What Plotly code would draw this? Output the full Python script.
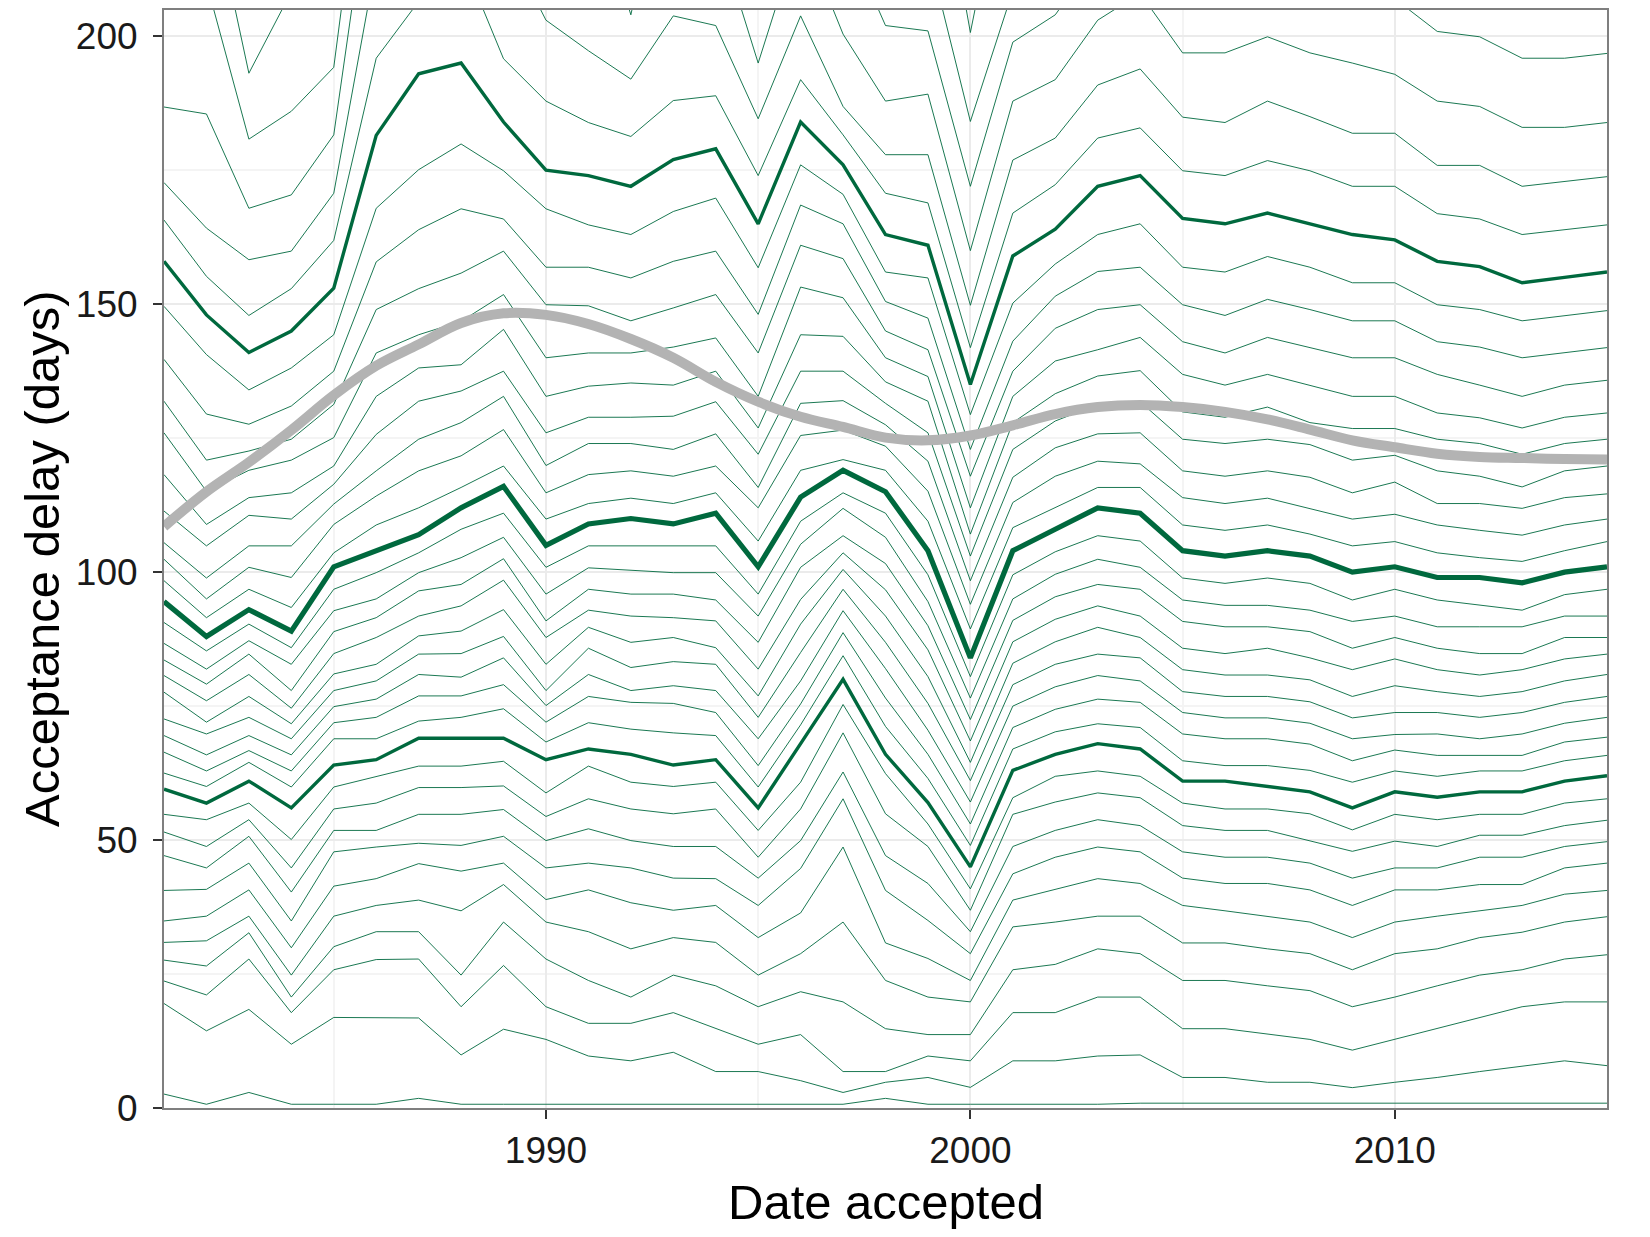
import plotly.graph_objects as go

# ---------------- data ----------------
YEARS = list(range(1981, 2016))
# percentile levels of the yearly acceptance-delay distribution (0 %, 2.5 %, ... 100 %)
QUANTILE_LEVELS = [i * 2.5 for i in range(41)]

# yearly quantile profiles (days); values > 205 run off the panel
Q1981 = [2.6, 19.5, 23.7, 27.6, 30.9, 34.9, 40.6, 47.1, 51.5, 54.8, 59.5, 62.5, 66.4, 69.5, 72.6, 77.6, 80.7, 83.6, 86.7, 90.6, 94.5, 98.4, 102.4, 105.5, 111.4, 118.2, 126.0, 131.9, 139.7, 149.6, 158.0, 165.7, 172.7, 186.8, 215, 240, 265, 300, 350, 450, 900]
Q1982 = [0.7, 14.4, 21.1, 26.5, 31.2, 35.8, 40.8, 44.8, 48.8, 53.8, 56.9, 60.0, 62.9, 65.9, 69.8, 72.0, 76.0, 79.1, 81.9, 85.3, 88.0, 91.5, 95.0, 98.9, 104.9, 108.9, 115.1, 120.9, 129.5, 140.6, 148.0, 155.2, 164.2, 185.5, 210, 230, 255, 290, 340, 440, 880]
Q1983 = [2.9, 18.4, 27.8, 32.7, 35.8, 40.7, 45.7, 50.7, 53.8, 56.9, 61.0, 64.5, 66.7, 69.5, 72.9, 76.8, 80.9, 84.7, 87.2, 90.3, 93.0, 96.8, 100.9, 104.9, 110.6, 113.9, 119.0, 122.6, 127.6, 134.0, 141.0, 147.9, 158.3, 167.9, 180.8, 193.1, 220, 260, 310, 420, 850]
Q1984 = [0.7, 11.9, 17.8, 20.7, 24.8, 29.9, 34.9, 40.3, 44.8, 50.1, 56.0, 59.9, 62.9, 65.9, 68.9, 71.7, 74.6, 77.9, 82.8, 85.9, 89.0, 93.4, 99.0, 104.9, 109.9, 114.8, 120.9, 124.8, 131.0, 138.1, 145.0, 152.9, 159.9, 170.4, 186.0, 208.3, 235, 270, 320, 430, 860]
Q1985 = [0.7, 16.9, 25.8, 30.1, 35.8, 41.4, 47.8, 51.8, 55.8, 59.9, 64.0, 68.9, 71.9, 74.9, 77.9, 81.0, 84.8, 88.9, 92.8, 96.8, 101.0, 103.6, 108.9, 112.7, 116.4, 119.8, 125.1, 131.3, 137.5, 144.3, 153.0, 161.9, 170.7, 181.6, 194.2, 230, 260, 300, 350, 460, 900]
Q1986 = [0.7, 16.8, 27.7, 32.9, 37.8, 42.8, 48.7, 51.8, 56.9, 61.9, 65.0, 68.9, 72.9, 76.3, 79.7, 82.8, 87.8, 91.5, 95.0, 99.9, 104.0, 108.8, 114.2, 118.9, 125.7, 132.8, 140.9, 149.0, 157.9, 167.9, 181.5, 195.9, 214, 237, 255, 280, 310, 350, 400, 500, 950]
Q1987 = [1.8, 16.8, 27.8, 32.9, 38.8, 45.6, 49.4, 54.8, 59.8, 63.8, 69.0, 72.2, 76.9, 80.9, 84.7, 88.1, 91.8, 96.5, 99.9, 103.6, 107.0, 112.0, 118.9, 124.8, 131.9, 138.1, 144.3, 152.9, 163.9, 175.1, 193.0, 206.5, 230, 250, 265, 290, 320, 360, 410, 510, 950]
Q1988 = [0.7, 9.9, 18.9, 24.8, 36.8, 44.2, 49.0, 54.8, 59.8, 63.8, 69.0, 72.9, 76.9, 80.4, 84.8, 89.0, 93.7, 97.7, 102.7, 108.0, 112.0, 115.8, 121.7, 127.9, 133.8, 138.7, 146.8, 155.8, 167.8, 179.9, 195.0, 215, 235, 255, 270, 295, 325, 365, 420, 520, 960]
Q1989 = [0.7, 14.7, 26.6, 34.7, 41.7, 45.7, 50.7, 55.7, 60.1, 64.7, 69.0, 74.5, 79.0, 84.0, 88.0, 93.0, 98.5, 102.5, 106.5, 111.0, 116.0, 119.8, 126.6, 132.8, 137.5, 145.3, 151.8, 159.9, 165.9, 174.9, 184.0, 195.8, 218.6, 245, 265, 290, 320, 360, 410, 510, 950]
Q1990 = [0.7, 12.8, 18.9, 27.8, 34.7, 38.9, 44.8, 49.9, 54.4, 58.8, 65.0, 68.3, 72.0, 75.1, 77.9, 82.8, 87.8, 90.9, 95.9, 100.9, 105.0, 109.9, 114.8, 119.9, 126.0, 132.8, 140.0, 149.9, 156.9, 167.8, 175.0, 187.9, 203.0, 225, 250, 275, 300, 340, 390, 490, 920]
Q1991 = [0.7, 9.7, 15.8, 23.8, 32.9, 40.7, 45.7, 52.1, 57.7, 63.8, 67.0, 71.9, 76.8, 80.9, 85.8, 89.7, 92.9, 96.8, 100.8, 104.9, 109.0, 112.8, 118.2, 124.0, 128.9, 134.7, 140.9, 149.7, 156.9, 164.8, 174.0, 183.9, 197.3, 230, 250, 275, 300, 340, 390, 490, 920]
Q1992 = [0.7, 8.8, 15.8, 20.7, 29.7, 38.3, 44.8, 49.9, 55.8, 60.8, 66.0, 70.7, 75.7, 77.9, 82.2, 86.9, 91.8, 95.9, 100.4, 104.9, 110.0, 113.8, 118.9, 124.0, 128.9, 135.3, 140.9, 146.9, 154.9, 163.0, 172.0, 181.3, 192.0, 204.0, 245, 270, 300, 340, 390, 490, 920]
Q1993 = [0.7, 10.4, 17.8, 24.8, 31.8, 36.9, 42.9, 48.8, 54.9, 60.0, 64.0, 70.0, 75.5, 78.8, 83.3, 87.8, 91.5, 95.9, 99.9, 104.9, 109.0, 112.8, 117.9, 122.9, 129.1, 134.9, 142.0, 149.3, 158.0, 167.3, 177.0, 188.0, 203.8, 240, 260, 285, 310, 350, 400, 500, 930]
Q1994 = [0.7, 6.8, 14.8, 22.8, 30.9, 37.8, 42.8, 48.8, 55.8, 60.8, 65.0, 69.5, 73.8, 77.9, 82.8, 85.9, 90.9, 94.8, 99.9, 104.9, 111.0, 114.8, 119.8, 125.8, 131.8, 137.5, 143.7, 151.8, 159.9, 169.8, 179.0, 188.9, 202.0, 220.4, 245, 270, 300, 340, 390, 490, 920]
Q1995 = [0.7, 6.8, 11.9, 18.9, 24.8, 31.8, 37.8, 42.9, 46.8, 51.8, 56.0, 59.9, 63.9, 68.9, 72.9, 76.9, 81.9, 86.9, 91.8, 95.9, 101.0, 105.8, 112.0, 115.8, 122.0, 126.9, 132.8, 140.9, 148.1, 156.8, 165.0, 174.0, 184.6, 195.0, 230, 260, 290, 330, 380, 480, 900]
Q1996 = [0.7, 5.1, 13.7, 21.7, 28.8, 36.4, 44.7, 49.9, 55.8, 60.8, 68.0, 71.5, 75.4, 79.7, 85.0, 90.3, 94.9, 100.9, 105.2, 109.5, 114.0, 119.0, 125.5, 131.5, 137.5, 144.3, 153.2, 161.0, 168.5, 176.0, 184.0, 191.9, 203.8, 220, 245, 270, 300, 340, 390, 490, 920]
Q1997 = [0.7, 2.9, 6.8, 19.8, 34.7, 48.7, 57.7, 62.7, 70.0, 75.3, 80.0, 84.4, 88.7, 92.8, 96.8, 100.5, 103.6, 106.8, 111.9, 114.8, 119.0, 121.0, 126.5, 132.0, 137.5, 144.0, 151.2, 158.5, 165.0, 170.5, 176.0, 181.6, 186.9, 200.4, 220, 250, 280, 320, 370, 470, 900]
Q1998 = [1.8, 4.8, 6.8, 14.8, 23.8, 30.8, 40.6, 47.1, 54.9, 62.4, 66.0, 71.2, 76.5, 82.0, 86.9, 91.8, 96.7, 101.6, 106.5, 111.0, 115.0, 119.0, 123.5, 127.5, 131.5, 135.5, 140.0, 145.0, 150.5, 156.0, 163.0, 170.7, 177.9, 187.9, 202.0, 230, 260, 300, 350, 450, 880]
Q1999 = [0.7, 5.7, 9.7, 13.7, 20.7, 27.9, 35.0, 41.9, 48.8, 53.0, 57.0, 61.5, 66.0, 70.5, 75.5, 80.5, 85.5, 90.0, 94.5, 99.5, 104.0, 109.5, 115.1, 120.7, 126.0, 131.9, 136.5, 141.5, 147.4, 154.9, 161.0, 168.9, 177.9, 189.2, 201.0, 216, 245, 285, 335, 430, 860]
Q2000 = [0.7, 3.85, 8.8, 13.7, 19.8, 23.8, 28.8, 32.9, 36.9, 40.9, 45.0, 49.0, 53.0, 57.1, 61.1, 64.5, 68.5, 72.5, 76.5, 80.5, 84.0, 89.4, 94.0, 98.4, 103.0, 107.1, 112.0, 117.9, 122.9, 129.4, 135.0, 141.9, 149.8, 160.0, 172.0, 184.1, 200.7, 235, 285, 380, 800]
Q2001 = [0.7, 8.8, 17.8, 25.8, 33.8, 38.8, 43.7, 48.8, 54.8, 57.9, 63.0, 67.0, 71.0, 75.0, 79.0, 83.0, 87.0, 91.0, 95.0, 99.5, 104.0, 108.3, 113.0, 117.7, 122.9, 127.9, 132.8, 137.5, 143.1, 150.2, 159.0, 167.0, 176.9, 187.9, 198.9, 208.5, 240, 275, 320, 420, 850]
Q2002 = [0.7, 8.8, 17.8, 26.8, 34.7, 40.8, 46.8, 51.8, 57.1, 61.9, 66.0, 70.2, 74.4, 78.6, 82.8, 87.0, 91.2, 95.4, 99.6, 103.8, 108.0, 112.0, 117.9, 123.2, 128.2, 133.3, 139.4, 145.5, 151.5, 157.5, 164.0, 172.3, 181.0, 191.9, 204.0, 225, 255, 290, 340, 440, 870]
Q2003 = [0.7, 9.7, 20.7, 29.7, 35.8, 42.8, 48.7, 53.8, 58.8, 62.9, 68.0, 71.7, 76.3, 80.7, 84.7, 89.7, 93.7, 97.7, 102.4, 106.8, 112.0, 115.8, 120.7, 125.8, 131.3, 136.6, 141.5, 149.0, 156.1, 163.0, 172.0, 181.0, 190.9, 203.0, 215, 240, 270, 305, 355, 455, 880]
Q2004 = [0.9, 9.9, 20.7, 28.8, 35.8, 41.9, 47.8, 52.7, 57.9, 61.9, 67.0, 71.0, 75.7, 79.7, 84.0, 87.8, 91.8, 96.8, 100.9, 105.8, 111.0, 115.8, 120.2, 126.0, 131.8, 137.6, 143.8, 149.9, 156.9, 165.0, 174.0, 182.9, 193.9, 208.0, 220, 245, 275, 310, 360, 460, 890]
Q2005 = [0.9, 5.7, 14.8, 23.8, 30.8, 37.8, 42.9, 47.8, 52.7, 56.9, 61.0, 64.8, 69.8, 73.8, 77.7, 81.8, 85.8, 90.8, 94.8, 98.9, 104.0, 108.8, 113.9, 118.9, 124.8, 129.9, 136.9, 143.0, 149.9, 156.9, 166.0, 174.9, 184.9, 196.9, 212, 235, 265, 300, 350, 450, 880]
Q2006 = [0.9, 5.7, 14.8, 23.8, 30.8, 36.8, 41.9, 46.8, 51.8, 55.8, 61.0, 63.9, 68.9, 72.8, 76.8, 80.8, 84.8, 89.8, 93.8, 97.9, 103.0, 107.8, 112.8, 117.9, 124.0, 128.9, 134.9, 140.9, 147.9, 156.0, 165.0, 174.0, 183.9, 196.9, 212, 235, 265, 300, 350, 450, 880]
Q2007 = [0.9, 4.8, 13.8, 22.8, 29.7, 35.8, 41.9, 46.8, 51.8, 55.8, 60.0, 63.9, 68.9, 72.8, 76.8, 80.8, 85.8, 89.8, 93.8, 98.9, 104.0, 108.8, 113.8, 118.9, 124.8, 130.8, 136.9, 143.8, 150.9, 158.9, 167.0, 176.8, 187.9, 199.9, 214, 238, 268, 305, 355, 455, 885]
Q2008 = [0.9, 4.8, 12.8, 21.9, 28.8, 34.7, 40.7, 45.7, 49.9, 54.9, 59.0, 63.0, 67.9, 71.8, 75.8, 79.9, 84.0, 88.9, 92.9, 97.9, 103.0, 107.1, 111.9, 117.7, 123.8, 127.9, 134.9, 141.9, 149.0, 156.9, 165.0, 174.9, 185.0, 196.9, 211, 232, 262, 300, 350, 450, 880]
Q2009 = [0.9, 3.8, 10.8, 18.9, 25.8, 31.8, 37.8, 42.9, 47.9, 51.9, 56.0, 60.8, 64.8, 68.9, 72.8, 76.8, 81.8, 85.8, 90.8, 94.8, 100.0, 104.9, 109.9, 114.8, 120.9, 126.8, 132.8, 140.0, 146.9, 154.0, 163.0, 172.0, 181.9, 195.0, 209, 228, 258, 295, 345, 445, 870]
Q2010 = [0.9, 4.8, 12.8, 20.7, 28.8, 34.7, 40.7, 44.8, 49.8, 54.8, 59.0, 62.9, 66.8, 69.7, 73.8, 78.8, 83.8, 87.8, 91.8, 96.8, 101.0, 105.7, 110.8, 116.8, 121.8, 126.8, 132.8, 140.0, 146.9, 154.0, 162.0, 172.0, 181.9, 192.9, 207, 225, 255, 290, 340, 440, 860]
Q2011 = [0.9, 5.7, 14.8, 22.8, 29.7, 35.8, 40.7, 44.8, 48.8, 53.8, 58.0, 61.9, 65.8, 69.8, 73.8, 77.7, 81.8, 85.8, 89.8, 94.8, 99.0, 103.6, 108.8, 112.8, 118.9, 124.8, 129.7, 136.9, 143.0, 149.9, 158.0, 166.9, 175.9, 187.9, 200.9, 220, 250, 285, 335, 435, 850]
Q2012 = [0.9, 6.8, 16.8, 24.8, 31.8, 36.8, 41.7, 46.8, 50.9, 54.8, 59.0, 62.9, 65.8, 68.9, 72.9, 76.8, 80.8, 84.8, 89.8, 93.8, 99.0, 102.7, 107.8, 112.8, 117.9, 124.0, 128.8, 134.9, 142.0, 149.0, 157.0, 165.9, 175.9, 186.9, 199.9, 218, 248, 283, 333, 433, 850]
Q2013 = [0.9, 7.8, 18.9, 25.8, 32.8, 37.8, 41.7, 46.8, 50.9, 54.8, 59.0, 62.9, 65.8, 69.8, 73.8, 77.7, 81.8, 84.8, 89.8, 92.9, 98.0, 102.0, 106.9, 111.9, 115.9, 122.0, 126.9, 132.8, 140.0, 146.9, 154.0, 163.0, 172.0, 183.0, 195.9, 215, 245, 280, 330, 430, 850]
Q2014 = [0.9, 8.8, 19.8, 27.8, 34.7, 39.9, 44.8, 48.8, 52.7, 56.9, 61.0, 64.8, 68.3, 71.8, 75.7, 79.7, 83.8, 87.8, 91.8, 95.8, 100.0, 104.0, 108.8, 113.9, 118.9, 124.0, 128.9, 134.9, 140.9, 147.9, 155.0, 163.9, 172.9, 183.0, 195.9, 215, 245, 280, 330, 430, 850]
Q2015 = [0.9, 7.9, 19.8, 28.6, 35.7, 40.6, 45.7, 49.7, 53.7, 57.7, 62.0, 65.8, 69.2, 72.9, 76.8, 80.9, 84.7, 87.8, 91.8, 96.8, 101.0, 105.7, 109.9, 114.6, 119.8, 124.8, 129.7, 135.8, 141.9, 148.8, 156.0, 164.8, 173.8, 183.9, 196.8, 216, 246, 281, 331, 431, 850]

# smoothed trend (grey curve), days
GRAY_SMOOTH = [108.5, 115.0, 120.5, 126.5, 133.0, 138.5, 142.5, 146.5, 148.3, 148.0, 146.3, 143.5, 140.0, 135.5, 131.8, 129.0, 127.1, 125.1, 124.6, 125.5, 127.4, 129.5, 130.8, 131.2, 130.8, 129.9, 128.5, 126.6, 124.6, 123.3, 122.1, 121.5, 121.3, 121.1, 121.0]

X_TICKS = [1990, 2000, 2010]
Y_TICKS = [0, 50, 100, 150, 200]

PROFILES = [Q1981, Q1982, Q1983, Q1984, Q1985, Q1986, Q1987, Q1988, Q1989, Q1990,
            Q1991, Q1992, Q1993, Q1994, Q1995, Q1996, Q1997, Q1998, Q1999, Q2000,
            Q2001, Q2002, Q2003, Q2004, Q2005, Q2006, Q2007, Q2008, Q2009, Q2010,
            Q2011, Q2012, Q2013, Q2014, Q2015]

# ---------------- figure ----------------
GREEN = "#00693e"
FONT = "Liberation Sans, Arial, Helvetica, sans-serif"

fig = go.Figure()


def series(level_index):
    return [profile[level_index] for profile in PROFILES]


# thin quantile lines
for i, lvl in enumerate(QUANTILE_LEVELS):
    if lvl in (25.0, 50.0, 75.0):
        continue
    fig.add_trace(go.Scatter(x=YEARS, y=series(i), mode="lines",
                             line=dict(color=GREEN, width=0.9),
                             hoverinfo="skip", showlegend=False))

# grey smooth
fig.add_trace(go.Scatter(x=YEARS, y=GRAY_SMOOTH, mode="lines",
                         line=dict(color="#b3b3b3", width=10, shape="spline", smoothing=1.0),
                         hoverinfo="skip", showlegend=False))

# quartile lines
for lvl, w in ((25.0, 3.4), (75.0, 3.4), (50.0, 5.2)):
    i = QUANTILE_LEVELS.index(lvl)
    fig.add_trace(go.Scatter(x=YEARS, y=series(i), mode="lines",
                             line=dict(color=GREEN, width=w),
                             hoverinfo="skip", showlegend=False))

axis_common = dict(
    ticks="outside", ticklen=9, tickwidth=2, tickcolor="#333333",
    showgrid=True, gridcolor="#ebebeb", gridwidth=2,
    showline=True, linecolor="#7f7f7f", linewidth=2, mirror=True,
    zeroline=False,
    tickfont=dict(family=FONT, size=37, color="#1a1a1a"),
)

fig.update_layout(
    width=1650, height=1237,
    margin=dict(l=156, r=51, t=0, b=137),
    paper_bgcolor="white", plot_bgcolor="white",
    font=dict(family=FONT, color="black"),
    xaxis=dict(range=[1981, 2015], tickmode="array", tickvals=X_TICKS,
               ticktext=[str(v) for v in X_TICKS], ticklabelstandoff=0,
               minor=dict(tickmode="linear", tick0=1985, dtick=10, showgrid=True,
                          gridcolor="#f4f4f4", gridwidth=1.5),
               **axis_common),
    yaxis=dict(range=[0, 204.9], tickmode="array", tickvals=Y_TICKS,
               ticktext=[str(v) for v in Y_TICKS], ticklabelstandoff=8,
               minor=dict(tickmode="linear", tick0=25, dtick=50, showgrid=True,
                          gridcolor="#f4f4f4", gridwidth=1.5),
               **axis_common),
    annotations=[
        dict(text="Date accepted", x=0.5, y=0, xref="paper", yref="paper",
             xanchor="center", yanchor="middle", yshift=-94, showarrow=False,
             font=dict(family=FONT, size=49, color="black")),
        dict(text="Acceptance delay (days)", x=0, y=0.5, xref="paper", yref="paper",
             xanchor="center", yanchor="middle", xshift=-122, textangle=-90,
             showarrow=False, font=dict(family=FONT, size=49, color="black")),
    ],
)

fig.write_html("out.html")
